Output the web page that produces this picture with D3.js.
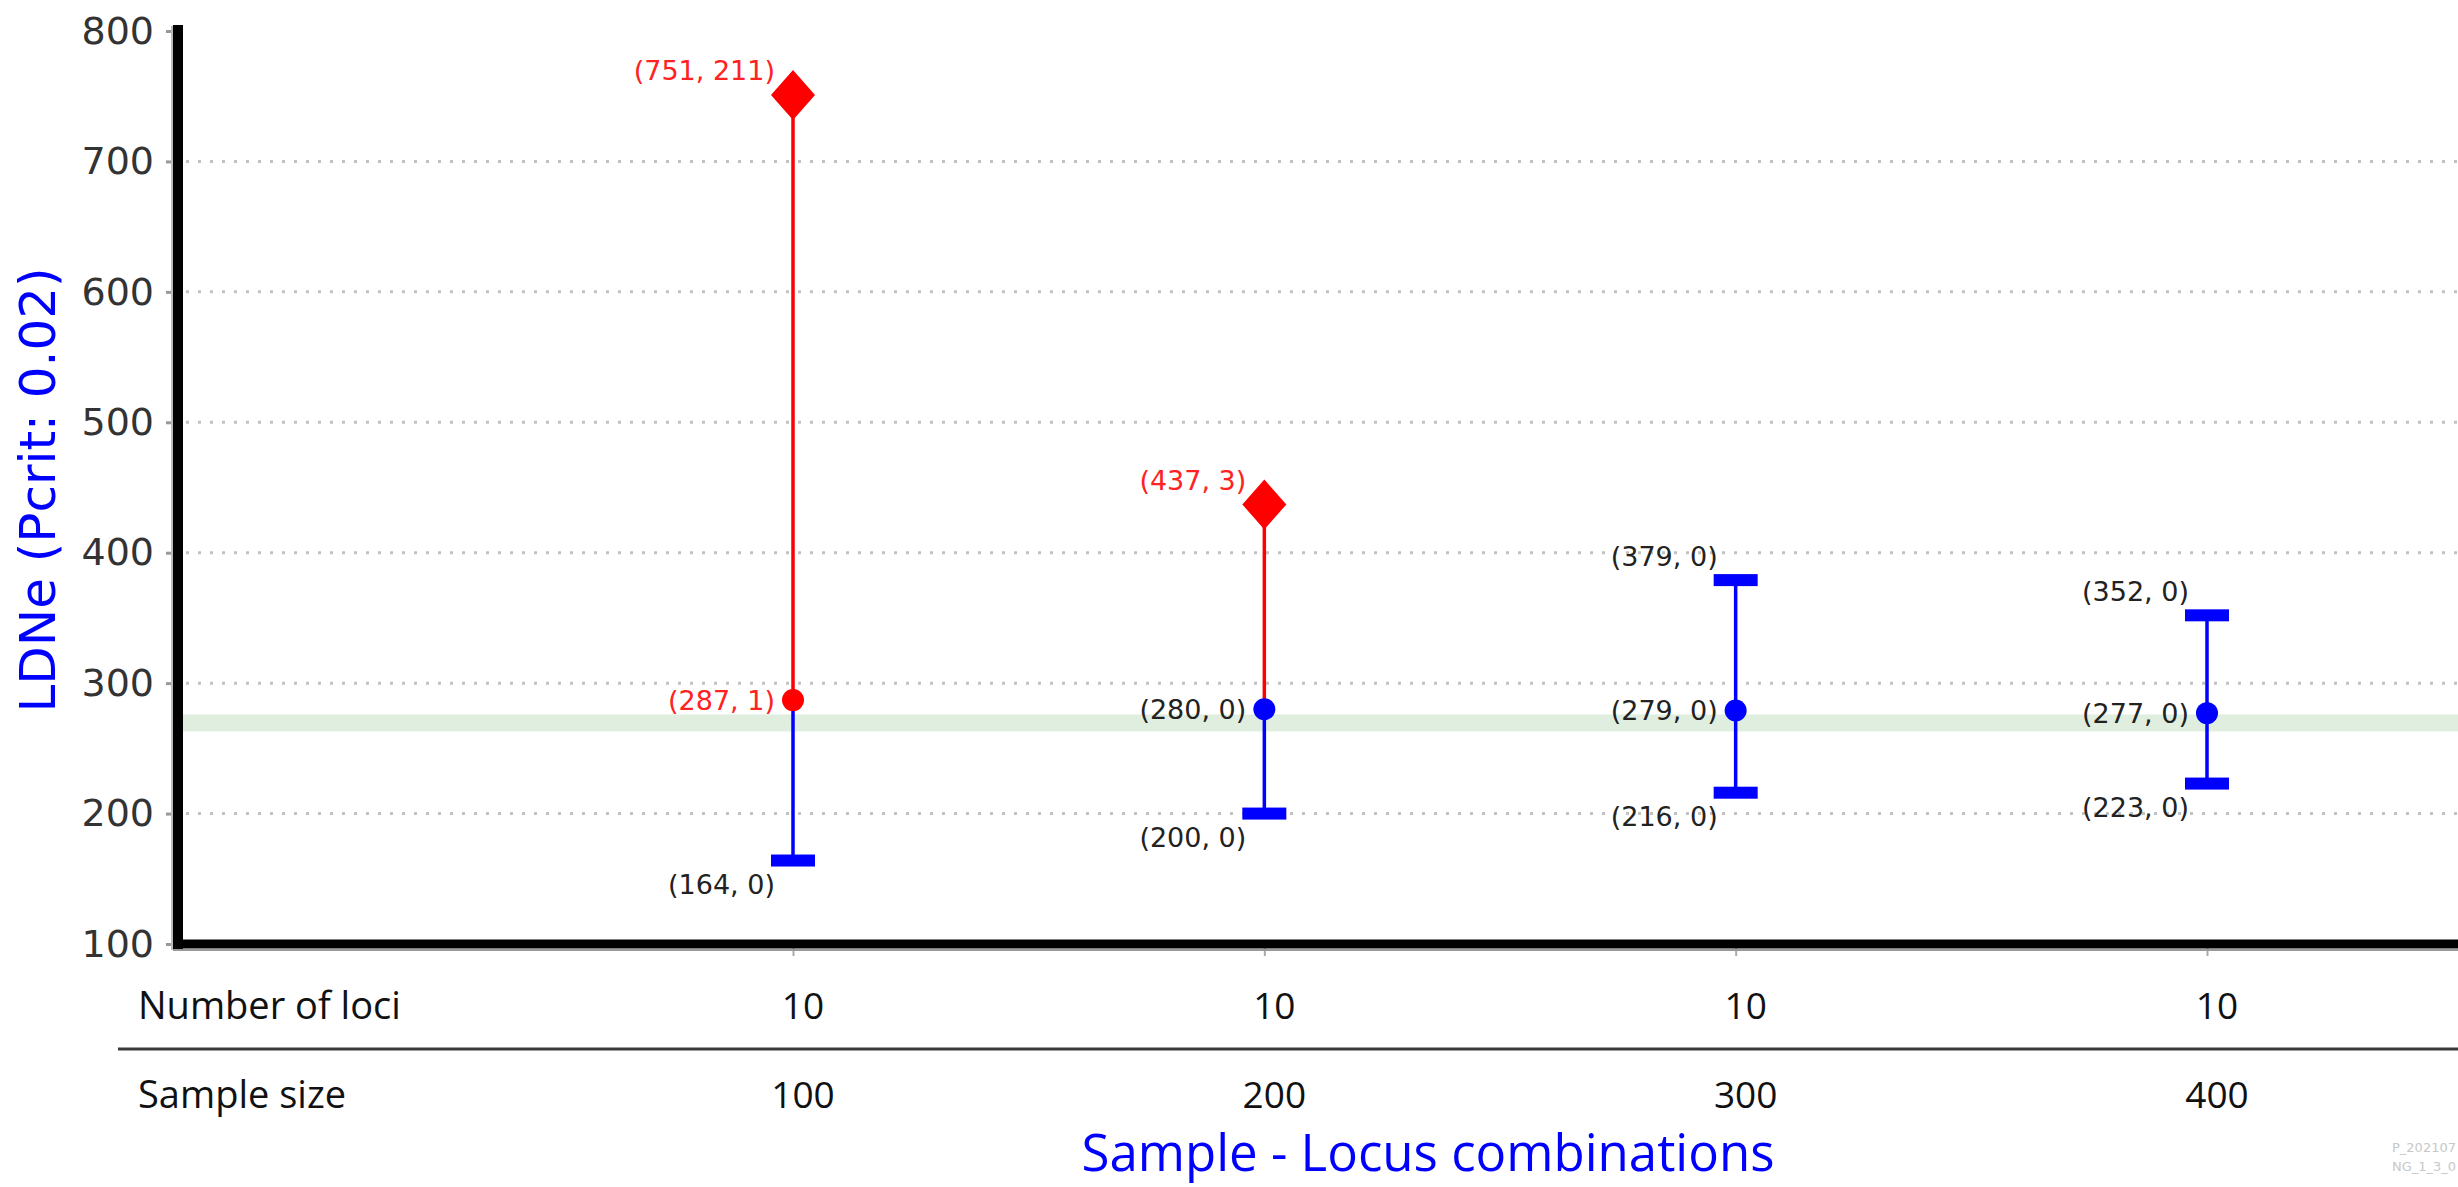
<!DOCTYPE html>
<html>
<head>
<meta charset="utf-8">
<script src="https://cdn.jsdelivr.net/npm/d3@7"></script>
<style>
    body { margin: 0; background: #fff; }
</style>
</head>
<body>
<div id="chart"></div>
<script>
// ----- Dati: combinazioni campione / locus
var sampleSizes = ["100", "200", "300", "400"];
var numberOfLoci = [10, 10, 10, 10];

// ----- LDNe stimato e intervallo (valore, conteggio)
var lowerValues = [164, 200, 216, 223];
var lowerCounts = [0, 0, 0, 0];
var estimateValues = [287, 280, 279, 277];
var estimateCounts = [1, 0, 0, 0];
var upperValues = [751, 437, 379, 352];
var upperCounts = [211, 3, 0, 0];

// ----- Fascia verde di riferimento
var bandRange = [263, 276];

// ----- Tick asse y
var yTicks = [100, 200, 300, 400, 500, 600, 700, 800];
var gridTicks = [200, 300, 400, 500, 600, 700];

var rowLabels = ["Number of loci", "Sample size"];

// ----- Larghezza e altezza
var w = 2458;
var h = 1187;

var RED = "#ff0000";
var BLUE = "#0000ff";

var svg = d3.select("#chart").append("svg")
    .attr("width", w)
    .attr("height", h)
    .style("display", "block");

var x = d3.scalePoint().domain(sampleSizes).range([793, 2207]);
var y = d3.scaleLinear().domain([100, 800]).range([944, 31]);

var axisX = 178;
var plotRight = w;

var items = sampleSizes.map(function (s, i) {
    return {
        sample: s,
        loci: numberOfLoci[i],
        lo: lowerValues[i], loN: lowerCounts[i],
        est: estimateValues[i], estN: estimateCounts[i],
        up: upperValues[i], upN: upperCounts[i]
    };
});

// ------------ BAND + GRID ------------
svg.append("rect")
    .attr("x", axisX)
    .attr("y", y(bandRange[1]))
    .attr("width", plotRight - axisX)
    .attr("height", y(bandRange[0]) - y(bandRange[1]))
    .attr("fill", "#dfeedf");

svg.append("g").selectAll("line").data(gridTicks)
    .enter().append("line")
    .attr("x1", axisX + 8)
    .attr("x2", plotRight)
    .attr("y1", function (d) { return y(d); })
    .attr("y2", function (d) { return y(d); })
    .attr("stroke", "#c2c2c2")
    .attr("stroke-width", 3)
    .attr("stroke-dasharray", "3,9");

// ------------ ASSI ------------
var yAxis = d3.axisLeft(y).tickValues(yTicks).tickSize(6).tickPadding(12);
var gy = svg.append("g")
    .attr("transform", "translate(" + (axisX - 6) + ",0)")
    .call(yAxis);
gy.select(".domain").remove();
gy.selectAll(".tick line").attr("stroke", "#999").attr("stroke-width", 3);
gy.selectAll(".tick text")
    .attr("font-family", "DejaVu Sans")
    .attr("font-size", 38)
    .attr("fill", "#333");

var xAxis = d3.axisBottom(x).tickSize(12).tickFormat("");
var gx = svg.append("g")
    .attr("transform", "translate(0," + 944 + ")")
    .call(xAxis);
gx.select(".domain").remove();
gx.selectAll(".tick line").attr("stroke", "#aaa").attr("stroke-width", 2);

// ombra grigia + assi neri spessi
svg.append("line")
    .attr("x1", axisX - 6).attr("x2", axisX - 6)
    .attr("y1", 26).attr("y2", 950)
    .attr("stroke", "#bbb").attr("stroke-width", 2);
svg.append("line")
    .attr("x1", axisX - 5).attr("x2", plotRight)
    .attr("y1", 950).attr("y2", 950)
    .attr("stroke", "#999").attr("stroke-width", 2);
svg.append("line")
    .attr("x1", axisX).attr("x2", axisX)
    .attr("y1", 25).attr("y2", 949)
    .attr("stroke", "#000").attr("stroke-width", 10);
svg.append("line")
    .attr("x1", axisX - 5).attr("x2", plotRight)
    .attr("y1", 944).attr("y2", 944)
    .attr("stroke", "#000").attr("stroke-width", 9);

// ------------ ERROR BARS ------------
function col(n) { return n > 0 ? RED : BLUE; }

var g = svg.append("g").attr("class", "main-layer");

var bars = g.selectAll("g.item").data(items)
    .enter().append("g")
    .attr("class", "item")
    .attr("transform", function (d) { return "translate(" + x(d.sample) + ",0)"; });

// segmento inferiore
bars.append("line")
    .attr("y1", function (d) { return y(d.lo); })
    .attr("y2", function (d) { return y(d.est); })
    .attr("stroke", function (d) { return col(d.loN); })
    .attr("stroke-width", 3.5);

// segmento superiore
bars.append("line")
    .attr("y1", function (d) { return y(d.est); })
    .attr("y2", function (d) { return y(d.up); })
    .attr("stroke", function (d) { return col(d.upN); })
    .attr("stroke-width", 3.5);

// marker estremi: barretta blu o rombo rosso
function endMarker(sel, key, keyN) {
    sel.each(function (d) {
        var el = d3.select(this);
        var yy = y(d[key]);
        if (d[keyN] > 0) {
            el.append("path")
                .attr("d", "M0," + (yy - 25) + "L22," + yy + "L0," + (yy + 25) + "L-22," + yy + "Z")
                .attr("fill", RED);
        } else {
            el.append("rect")
                .attr("x", -22).attr("y", yy - 6)
                .attr("width", 44).attr("height", 12)
                .attr("fill", BLUE);
        }
    });
}
endMarker(bars, "lo", "loN");
endMarker(bars, "up", "upN");

bars.append("circle")
    .attr("cy", function (d) { return y(d.est); })
    .attr("r", 11)
    .attr("fill", function (d) { return col(d.estN); });

// ----- etichette (valore, conteggio)
function addLabel(key, keyN, dy) {
    bars.append("text")
        .attr("x", -18)
        .attr("y", function (d) { return y(d[key]) + dy; })
        .attr("text-anchor", "end")
        .attr("dominant-baseline", "central")
        .attr("font-family", "DejaVu Sans")
        .attr("font-size", 27)
        .attr("fill", function (d) { return d[keyN] > 0 ? "#f22" : "#222"; })
        .text(function (d) { return "(" + d[key] + ", " + d[keyN] + ")"; });
}
addLabel("up", "upN", -24);
addLabel("est", "estN", 0);
addLabel("lo", "loN", 24);

// ------------ TABELLA SOTTO ------------
var rowY = [1004, 1093];

svg.append("line")
    .attr("x1", 118).attr("x2", plotRight)
    .attr("y1", 1049).attr("y2", 1049)
    .attr("stroke", "#3a3a3a").attr("stroke-width", 3);

svg.selectAll("text.row-label").data(rowLabels)
    .enter().append("text")
    .attr("class", "row-label")
    .attr("x", 138)
    .attr("y", function (d, i) { return rowY[i]; })
    .attr("dominant-baseline", "central")
    .attr("font-family", "Open Sans")
    .attr("font-size", 38)
    .attr("fill", "#111")
    .text(function (d) { return d; });

svg.selectAll("text.loci").data(items)
    .enter().append("text")
    .attr("class", "loci")
    .attr("x", function (d) { return x(d.sample) + 10; })
    .attr("y", rowY[0])
    .attr("text-anchor", "middle")
    .attr("dominant-baseline", "central")
    .attr("font-family", "Open Sans")
    .attr("font-size", 37)
    .attr("fill", "#111")
    .text(function (d) { return d.loci; });

svg.selectAll("text.size").data(items)
    .enter().append("text")
    .attr("class", "size")
    .attr("x", function (d) { return x(d.sample) + 10; })
    .attr("y", rowY[1])
    .attr("text-anchor", "middle")
    .attr("dominant-baseline", "central")
    .attr("font-family", "Open Sans")
    .attr("font-size", 37)
    .attr("fill", "#111")
    .text(function (d) { return d.sample; });

// ------------ TITOLI ASSI ------------
svg.append("text")
    .attr("x", 1428)
    .attr("y", 1171)
    .attr("text-anchor", "middle")
    .attr("font-family", "Open Sans")
    .attr("font-size", 51)
    .attr("fill", BLUE)
    .text("Sample - Locus combinations");

svg.append("text")
    .attr("transform", "translate(38,490) rotate(-90)")
    .attr("text-anchor", "middle")
    .attr("dominant-baseline", "central")
    .attr("font-family", "DejaVu Sans")
    .attr("font-size", 50)
    .attr("fill", BLUE)
    .text("LDNe (Pcrit: 0.02)");

// ----- watermark
svg.selectAll("text.wm").data(["P_202107", "NG_1_3_0"])
    .enter().append("text")
    .attr("class", "wm")
    .attr("x", 2392)
    .attr("y", function (d, i) { return 1152 + i * 19; })
    .attr("font-family", "DejaVu Sans")
    .attr("font-size", 13)
    .attr("fill", "#c8c8c8")
    .text(function (d) { return d; });
</script>
</body>
</html>
